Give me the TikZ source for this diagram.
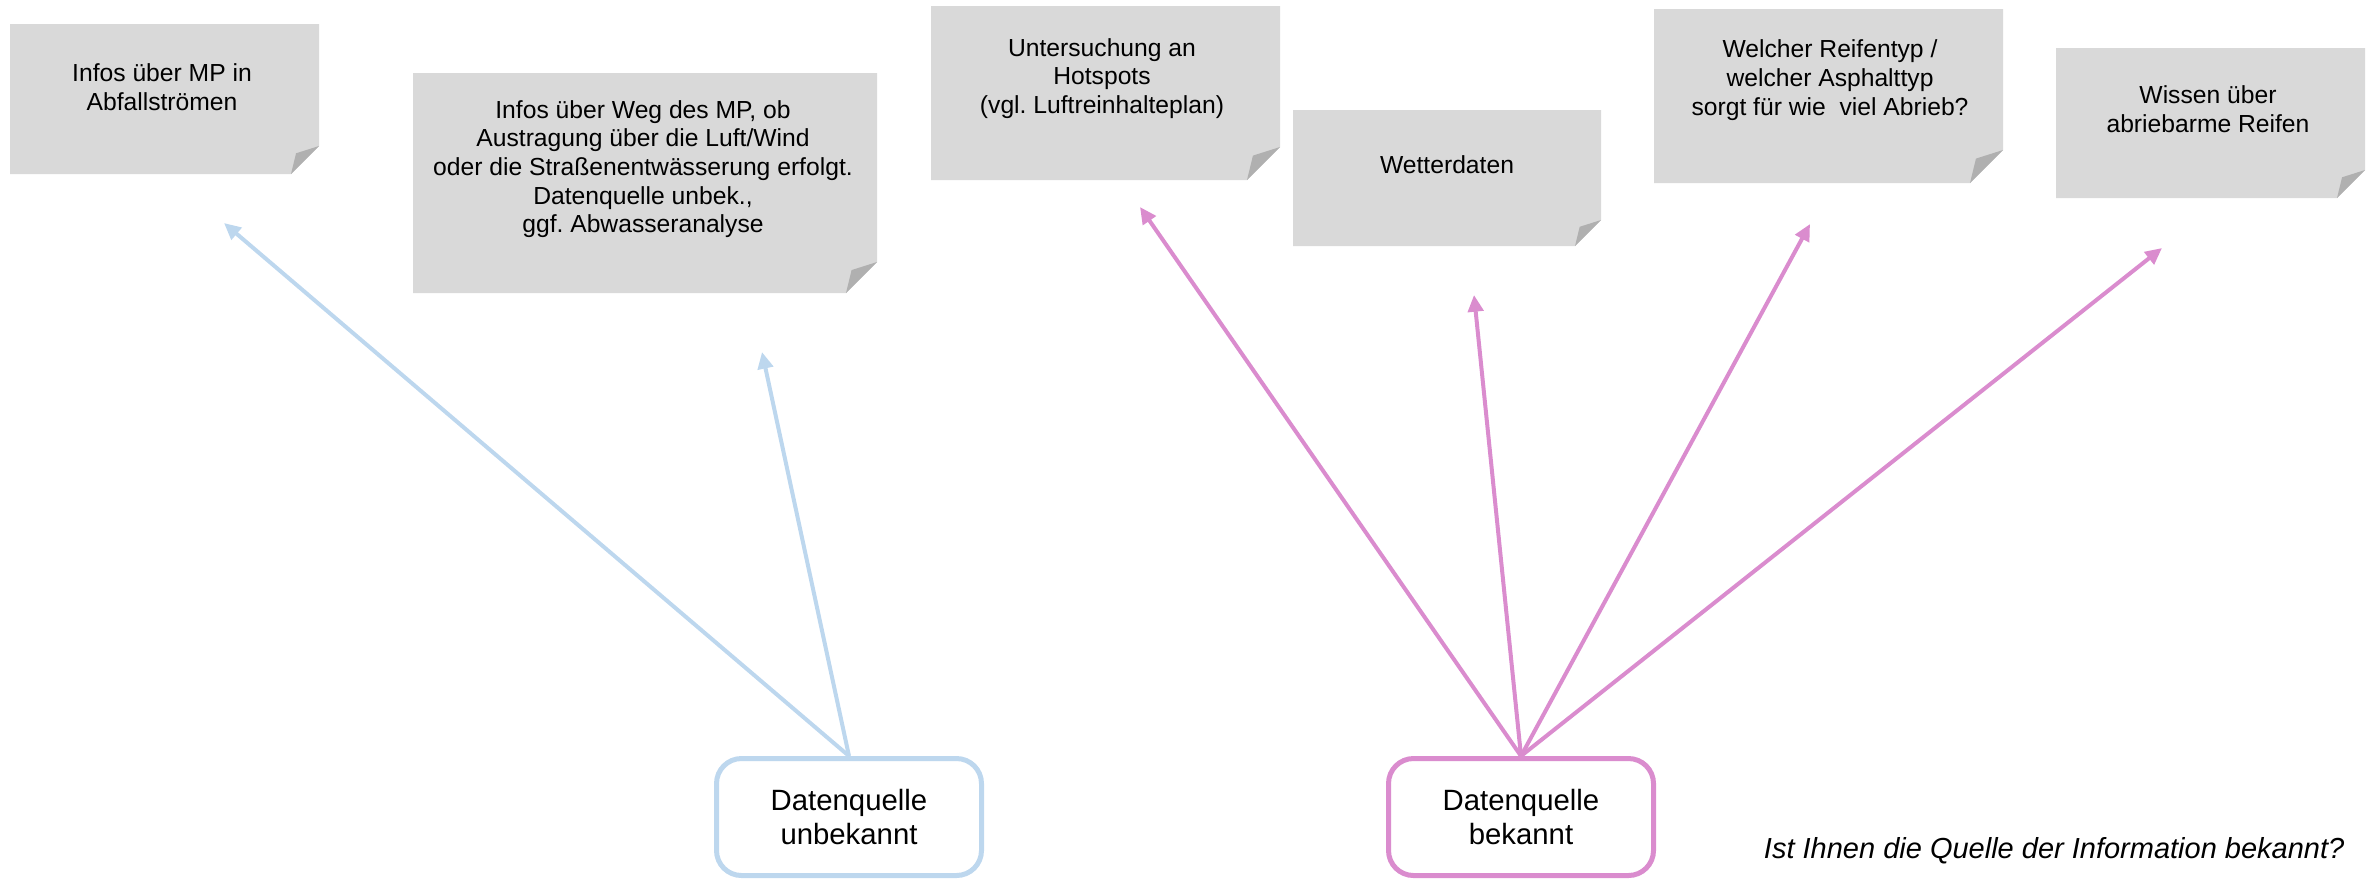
\documentclass[tikz,border=0pt]{standalone}
\usepackage{fontspec}
\setmainfont{Liberation Sans}
\usetikzlibrary{arrows.meta}
\frenchspacing
\definecolor{notegray}{RGB}{217,217,217}
\definecolor{foldgray}{RGB}{176,176,176}
\definecolor{lblue}{RGB}{189,215,238}
\definecolor{lpink}{RGB}{218,140,206}
\newcommand\stickynote[5]{%
  \fill[notegray] (#1,#2) -- (#3,#2) -- (#3,#4-#5) -- (#3-#5,#4) -- (#1,#4) -- cycle;
  \fill[foldgray] (#3,#4-#5) -- (#3-#5,#4) -- (#3-0.82*#5,#4-0.74*#5) -- cycle;}
\tikzset{
  notetext/.style={align=center, inner sep=0pt, font=\fontsize{7.4}{8.6}\selectfont},
  srcbox/.style={rounded corners=7.5pt, line width=1.5pt, fill=white, align=center,
    minimum width=79.5pt, minimum height=35.1pt, inner sep=0pt,
    font=\fontsize{8.8}{10}\selectfont},
  bluearrow/.style={draw=lblue, line width=1.2pt, -{Triangle[length=5pt,width=4.6pt]}},
  pinkarrow/.style={draw=lpink, line width=1.2pt, -{Triangle[length=5pt,width=4.6pt]}}
}
\begin{document}
\begin{tikzpicture}[x=0.3pt,y=-0.3pt]
\useasboundingbox (0,0) rectangle (2371,881);
% sticky notes
\stickynote{10}{24}{319}{174}{28}
\stickynote{413}{73}{877}{293}{31}
\stickynote{931}{6}{1280}{180}{33}
\stickynote{1293}{110}{1601}{246}{26}
\stickynote{1654}{9}{2003}{183}{33}
\stickynote{2056}{48}{2365}{198}{28}
\node[notetext] (n1) at (162,87) {Infos über MP in\\Abfallströmen};
\node[notetext] (n2) at (643,169) {Infos über Weg des MP, ob\\Austragung über die Luft/Wind\\oder die Straßenentwässerung erfolgt.\\Datenquelle unbek.,\\ggf. Abwasseranalyse};
\node[notetext] (n3) at (1102,78.5) {Untersuchung an\\Hotspots\\(vgl. Luftreinhalteplan)};
\node[notetext] (n4) at (1447,165) {Wetterdaten};
\node[notetext] (n5) at (1830,80) {Welcher Reifentyp /\\welcher Asphalttyp\\sorgt für wie\ \ viel Abrieb?};
\node[notetext] (n6) at (2208,109) {Wissen über\\abriebarme Reifen};
% arrow end points
\coordinate (b1) at (224,223);
\coordinate (b2) at (762,352);
\coordinate (p1) at (1140,207);
\coordinate (p2) at (1474,295);
\coordinate (p3) at (1810,224);
\coordinate (p4) at (2162,248);
% source boxes
\node[srcbox, draw=lblue] (unb) at (849,817) {Datenquelle\\unbekannt};
\node[srcbox, draw=lpink] (bek) at (1521,817) {Datenquelle\\bekannt};
\draw[bluearrow] (unb.north) -- (b1);
\draw[bluearrow] (unb.north) -- (b2);
\draw[pinkarrow] (bek.north) -- (p1);
\draw[pinkarrow] (bek.north) -- (p2);
\draw[pinkarrow] (bek.north) -- (p3);
\draw[pinkarrow] (bek.north) -- (p4);
\node[font=\fontsize{8.7}{10}\selectfont\itshape, anchor=east, inner sep=0pt] (q) at (2345,851) {Ist Ihnen die Quelle der Information bekannt?};
\end{tikzpicture}
\end{document}
